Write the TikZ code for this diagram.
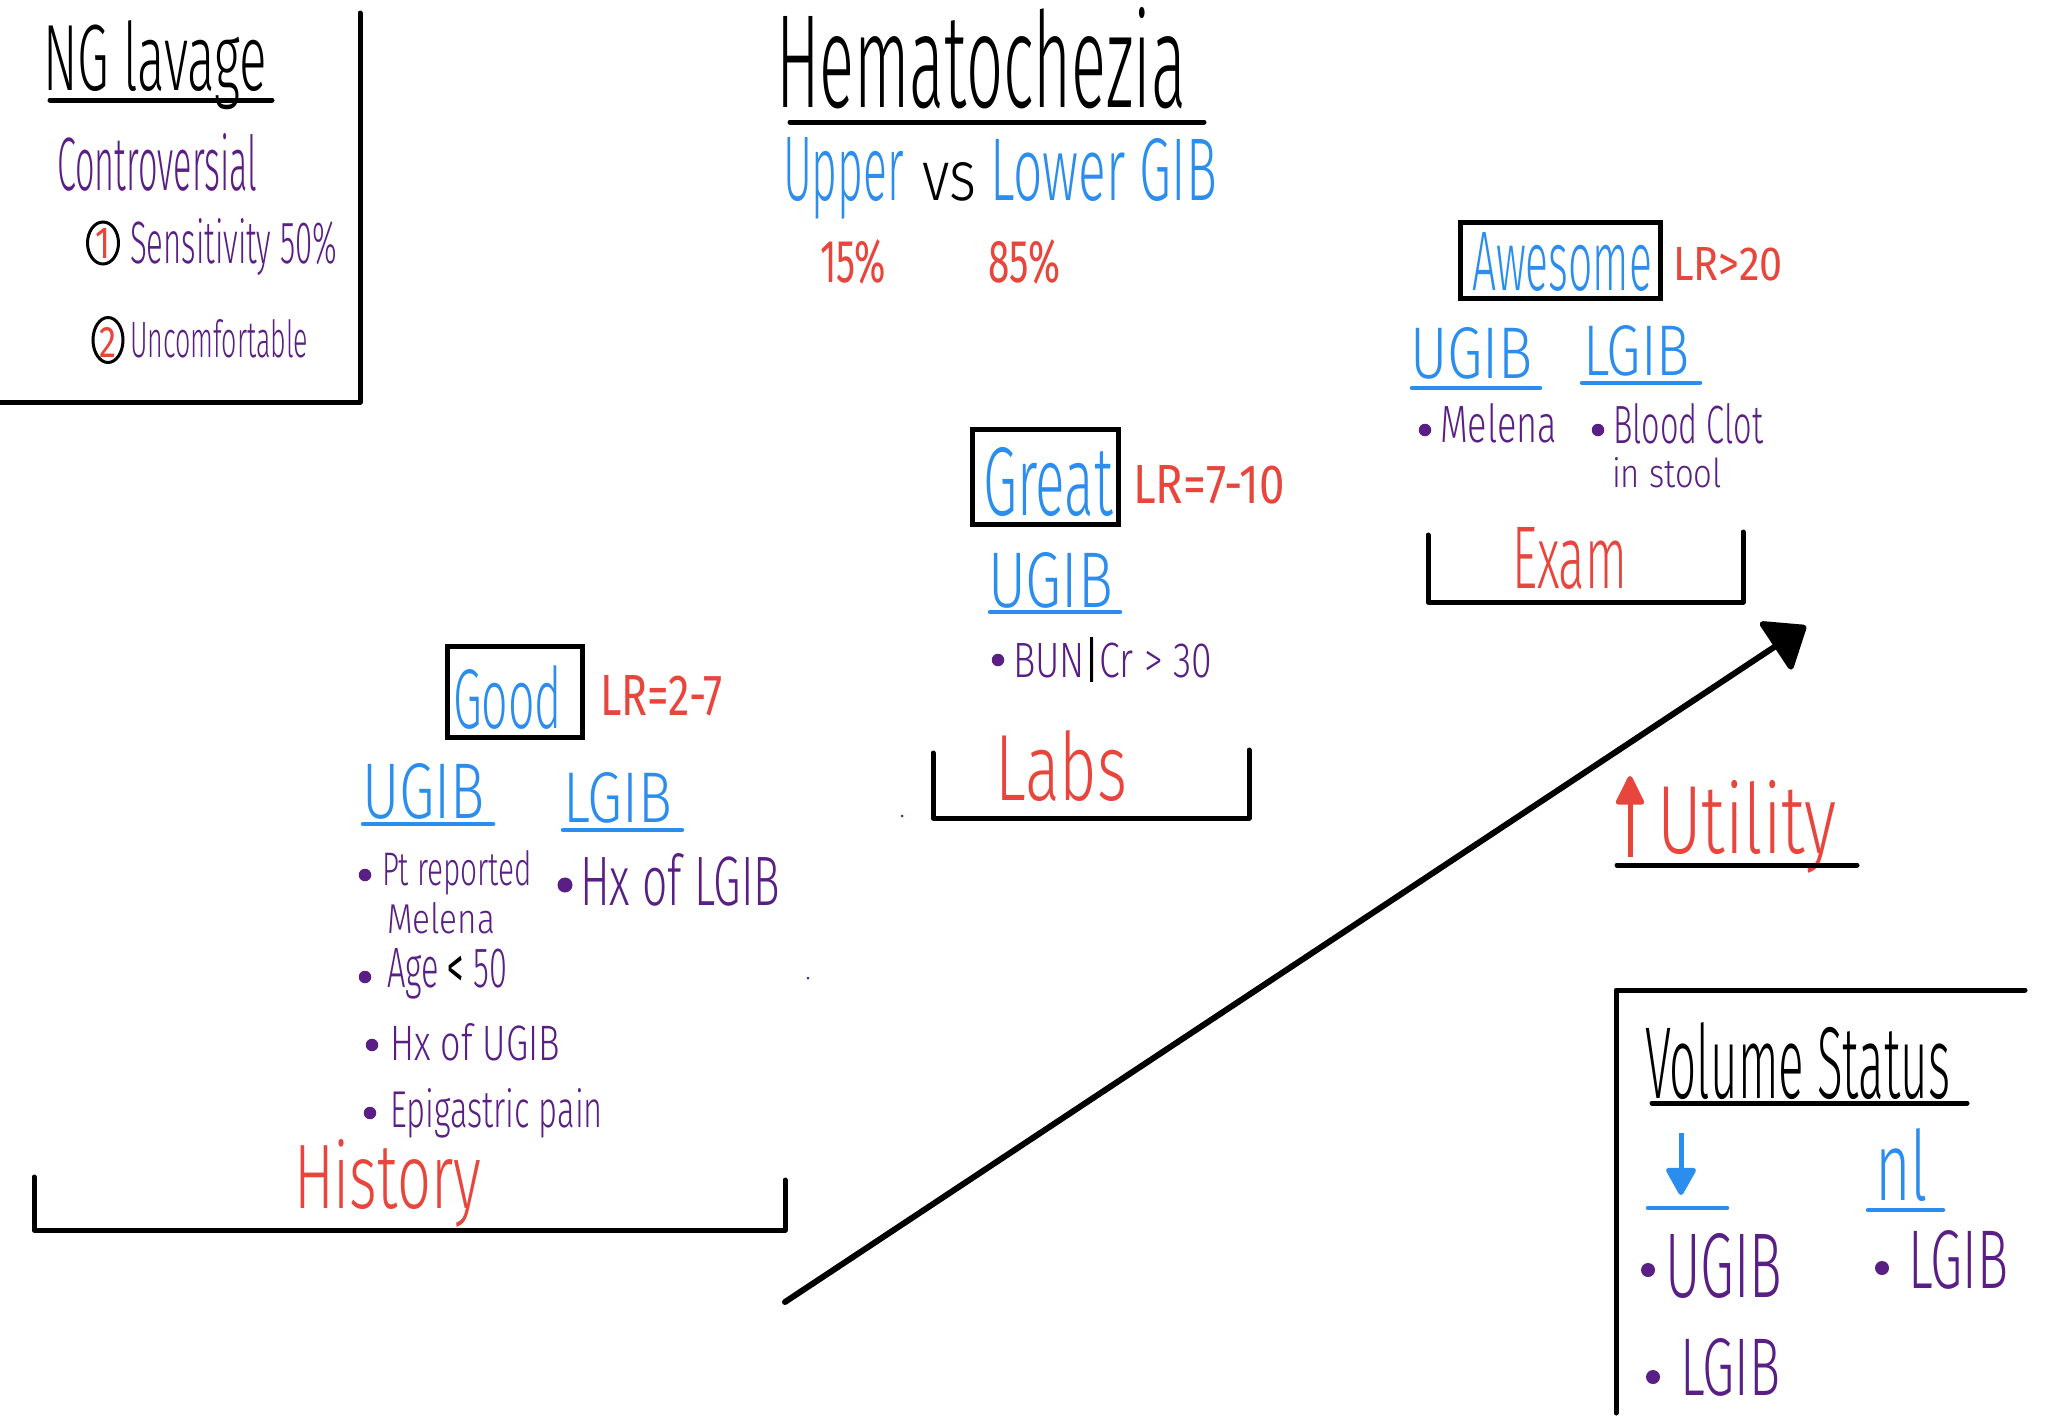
\documentclass[tikz,border=0pt]{standalone}
\usepackage{fontspec}
\setmainfont{Fira Sans Light}[BoldFont=Fira Sans]
\usepackage{graphicx}
\usetikzlibrary{arrows.meta,shapes.geometric}
\definecolor{hblue}{HTML}{2B8DEE}
\definecolor{hred}{HTML}{E8463D}
\definecolor{hpurple}{HTML}{5A1F85}
\newcommand{\hw}[3]{\resizebox{#1pt}{#2pt}{#3}}
\begin{document}
\begin{tikzpicture}[x=1pt,y=-1pt,
  txt/.style={anchor=base west,inner sep=0pt,outer sep=0pt},
  ink/.style={line width=5pt,line cap=round,line join=round},
  bline/.style={line width=4.5pt,line cap=round,draw=hblue},
  bul/.style={circle,fill=hpurple,inner sep=0pt,minimum size=12.5pt},
  boxed/.style={draw,line width=5pt,inner sep=0pt,rectangle},
  numring/.style={draw,ellipse,line width=3pt,inner sep=0pt},
  tb/.style={txt,text=hblue},
  tr/.style={txt,text=hred},
  tp/.style={txt,text=hpurple},
  tk/.style={txt,text=black}]
\useasboundingbox (0,0) rectangle (2048,1424);
\fill[white] (0,0) rectangle (2048,1424);

% ---------- NG lavage corner box ----------
\draw[ink] (360,13) -- (360,402) -- (0,402);
\node[tk] (ng) at (43,90) {\hw{224}{70}{NG lavage}};
\draw[ink] (50,100) -- (272,100);
\node[tp] (contro) at (57,190) {\hw{200}{57}{Controversial}};
\node[numring,minimum width=31pt,minimum height=42pt] (ring1) at (103,243) {};
\node[inner sep=0pt,text=hred] (num1) at (103,243) {\hw{15}{30}{\bfseries 1}};
\node[tp] (sens) at (130,263) {\hw{207}{45}{Sensitivity 50\%}};
\node[numring,minimum width=30pt,minimum height=45pt] (ring2) at (108,340) {};
\node[inner sep=0pt,text=hred] (num2) at (108,342) {\hw{17}{30}{\bfseries 2}};
\node[tp] (uncomf) at (130,357) {\hw{178}{38}{Uncomfortable}};

% ---------- Title ----------
\node[tk] (title) at (776,107) {\hw{410}{100}{Hematochezia}};
\draw[ink] (790,122) -- (1204,122);
\node[tb] (upper) at (783,200) {\hw{121}{63}{Upper}};
\node[tk] (vs) at (922,200) {\hw{54}{38}{vs}};
\node[tb] (lower) at (990,200) {\hw{227}{62}{Lower GIB}};
\node[tr] (p15) at (820,282) {\hw{66}{43}{\bfseries 15\%}};
\node[tr] (p85) at (988,282) {\hw{72}{43}{\bfseries 85\%}};

% ---------- Awesome / Exam ----------
\node[boxed,minimum width=200pt,minimum height=76pt] (awbox) at (1560,260) {};
\node[tb] (awesome) at (1472,290) {\hw{180}{58}{Awesome}};
\node[tr] (lr20) at (1673,280) {\hw{110}{33}{\bfseries LR>20}};
\node[tb] (ugibC) at (1410,378) {\hw{123}{51}{UGIB}};
\draw[bline] (1412,388) -- (1540,388);
\node[tb] (lgibC) at (1583,375) {\hw{107}{50}{LGIB}};
\draw[bline] (1582,383) -- (1700,383);
\node[bul] (bC1) at (1425,430) {};
\node[tp] (melC) at (1440,442) {\hw{117}{39}{Melena}};
\node[bul] (bC2) at (1598,430) {};
\node[tp] (clot) at (1613,443) {\hw{150}{40}{Blood Clot}};
\node[tp] (stool) at (1612,487) {\hw{110}{30}{in stool}};
\draw[ink] (1428,535) -- (1428,602) -- (1743,602) -- (1743,532);
\node[tr] (exam) at (1512,588) {\hw{115}{61}{Exam}};

% ---------- Great / Labs ----------
\node[boxed,minimum width=146pt,minimum height=95pt] (grbox) at (1045,476.5) {};
\node[tb] (great) at (983,515) {\hw{130}{68}{Great}};
\node[tr] (lr710) at (1133,503) {\hw{152}{38}{\bfseries LR=7-10}};
\node[tb] (ugibB) at (988,607) {\hw{125}{55}{UGIB}};
\draw[bline] (990,612) -- (1120,612);
\node[bul] (bB1) at (998,660) {};
\node[tp] (bun) at (1013,677) {\hw{199}{40}{BUN{\color{black}\bfseries|}Cr > 30}};
\draw[ink] (933,753) -- (933,818) -- (1249,818) -- (1249,750);
\node[tr] (labs) at (995,800) {\hw{132}{70}{Labs}};
\fill[hpurple] (902,816) circle (1.5);
\fill[hpurple] (808,978) circle (1.5);

% ---------- Good / History ----------
\node[boxed,minimum width=135pt,minimum height=91pt] (gdbox) at (514.5,691.5) {};
\node[tb] (good) at (453,728) {\hw{109}{63}{Good}};
\node[tr] (lr27) at (600,715) {\hw{123}{40}{\bfseries LR=2-7}};
\node[tb] (ugibA) at (362,818) {\hw{123}{55}{UGIB}};
\draw[bline] (363,824) -- (493,824);
\node[tb] (lgibA) at (563,822) {\hw{109}{50}{LGIB}};
\draw[bline] (563,830) -- (682,830);
\node[bul] (bA1) at (365,875) {};
\node[tp] (ptrep) at (382,885) {\hw{150}{35}{Pt reported}};
\node[tp] (melA) at (387,933) {\hw{108}{31}{Melena}};
\node[bul,minimum size=15pt] (bA2) at (565,885) {};
\node[tp] (hxl) at (580,905) {\hw{200}{52}{Hx of LGIB}};
\node[bul] (bA3) at (365,977) {};
\node[tp] (age) at (387,987) {\hw{120}{39}{Age {\color{black}\bfseries<} 50}};
\node[bul] (bA4) at (372,1045) {};
\node[tp] (hxu) at (390,1060) {\hw{170}{37}{Hx of UGIB}};
\node[bul] (bA5) at (370,1113) {};
\node[tp] (epi) at (390,1127) {\hw{213}{39}{Epigastric pain}};
\draw[ink] (34,1177) -- (34,1230) -- (785,1230) -- (785,1180);
\node[tr] (hist) at (294,1208) {\hw{187}{69}{History}};

% ---------- Main arrow ----------
\coordinate (arrS) at (785,1302);
\coordinate (arrE) at (1806,626);
\draw[line width=6pt,line cap=round,-{Triangle[length=40pt,width=62pt,round]}] (arrS) -- (arrE);

% ---------- Utility ----------
\coordinate (utA) at (1630,857);
\coordinate (utB) at (1630,776);
\draw[hred,line width=5pt,-{Triangle[length=32pt,width=30pt,round]}] (utA) -- (utB);
\node[tr] (util) at (1657,853) {\hw{180}{73}{Utility}};
\draw[ink] (1617,865) -- (1857,865);

% ---------- Volume status ----------
\draw[ink] (1616,1413) -- (1616,990) -- (2025,990);
\node[tk] (vol) at (1645,1098) {\hw{305}{76}{Volume Status}};
\draw[ink] (1652,1103) -- (1967,1103);
\coordinate (dnA) at (1681,1133);
\coordinate (dnB) at (1681,1195);
\draw[hblue,line width=5pt,-{Triangle[length=30pt,width=32pt,round]}] (dnA) -- (dnB);
\draw[bline] (1648,1208) -- (1727,1208);
\node[tb] (nl) at (1875,1200) {\hw{53}{72}{nl}};
\draw[bline] (1868,1210) -- (1943,1210);
\node[bul,minimum size=14pt] (bV1) at (1648,1270) {};
\node[tp] (ugibV) at (1665,1297) {\hw{117}{64}{UGIB}};
\node[bul,minimum size=14pt] (bV2) at (1653,1377) {};
\node[tp] (lgibV) at (1680,1395) {\hw{100}{57}{LGIB}};
\node[bul,minimum size=14pt] (bV3) at (1882,1268) {};
\node[tp] (lgibV2) at (1908,1288) {\hw{100}{58}{LGIB}};
\end{tikzpicture}
\end{document}
